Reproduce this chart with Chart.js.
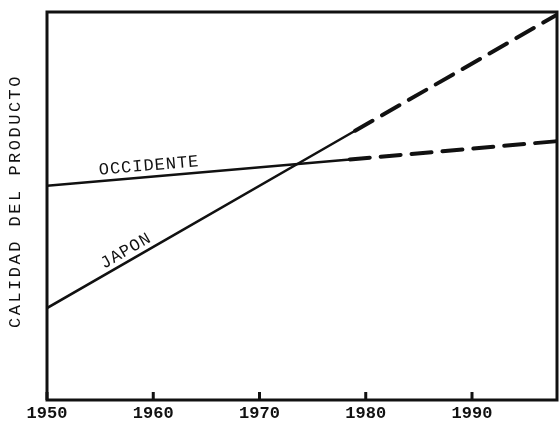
<!DOCTYPE html>
<html>
<head>
<meta charset="utf-8">
<script src="https://cdn.jsdelivr.net/npm/chart.js@4.4.1/dist/chart.umd.min.js"></script>
<style>
  html, body { margin: 0; padding: 0; background: #fff; }
</style>
</head>
<body>
<canvas id="chart" width="559" height="426"></canvas>
<script>
// values (quality index, arbitrary 0-100 scale)
const japonYears = [1950, 1979, 1998];
const japon = [23.7, 69.4, 99.3];
const occidenteYears = [1950, 1978.5, 1998];
const occidente = [55.2, 62.0, 66.7];
const xTicks = [1950, 1960, 1970, 1980, 1990];
const projectionFrom = 1978.5; // lines are dashed from here on

const INK = '#111';
const MONO = '"Liberation Mono", "DejaVu Sans Mono", monospace';

const toPoints = (xs, ys) => xs.map((x, i) => ({x: x, y: ys[i]}));

const dashedAfter = (ctx) => ctx.p0.parsed.x >= projectionFrom - 0.01 ? [20, 11] : undefined;
const widthAfter = (ctx) => ctx.p0.parsed.x >= projectionFrom - 0.01 ? 4 : 2.5;

// frame, inner ticks and hand-placed texts
const decorations = {
  id: 'decorations',
  afterDraw(chart) {
    const ctx = chart.ctx;
    const area = chart.chartArea;
    const xScale = chart.scales.x;
    const yScale = chart.scales.y;

    ctx.save();
    ctx.strokeStyle = INK;
    ctx.lineWidth = 3;
    ctx.strokeRect(area.left, area.top, area.right - area.left, area.bottom - area.top);

    xTicks.forEach((v) => {
      const x = xScale.getPixelForValue(v);
      ctx.beginPath();
      ctx.moveTo(x, area.bottom);
      ctx.lineTo(x, area.bottom - 8);
      ctx.stroke();
    });

    // y axis title
    ctx.fillStyle = INK;
    ctx.font = '17px ' + MONO;
    ctx.letterSpacing = '2.5px';
    ctx.textAlign = 'center';
    ctx.textBaseline = 'middle';
    ctx.translate(15, 201);
    ctx.rotate(-Math.PI / 2);
    ctx.fillText('CALIDAD DEL PRODUCTO', 0, 0);
    ctx.restore();

    // series labels along the lines
    const seriesLabels = [
      {text: 'OCCIDENTE', xs: occidenteYears, ys: occidente, year: 1959.7, offset: 11},
      {text: 'JAPON', xs: japonYears, ys: japon, year: 1957.9, offset: 10}
    ];
    seriesLabels.forEach((lab) => {
      const i = lab.xs.findIndex((x, k) => k < lab.xs.length - 1 && lab.xs[k + 1] >= lab.year);
      const x0 = xScale.getPixelForValue(lab.xs[i]);
      const y0 = yScale.getPixelForValue(lab.ys[i]);
      const x1 = xScale.getPixelForValue(lab.xs[i + 1]);
      const y1 = yScale.getPixelForValue(lab.ys[i + 1]);
      const t = (lab.year - lab.xs[i]) / (lab.xs[i + 1] - lab.xs[i]);
      const px = x0 + (x1 - x0) * t;
      const py = y0 + (y1 - y0) * t;
      const angle = Math.atan2(y1 - y0, x1 - x0);
      ctx.save();
      ctx.translate(px + Math.sin(angle) * lab.offset, py - Math.cos(angle) * lab.offset);
      ctx.rotate(angle);
      ctx.fillStyle = INK;
      ctx.font = '17px ' + MONO;
      ctx.letterSpacing = '1px';
      ctx.textAlign = 'center';
      ctx.textBaseline = 'middle';
      ctx.fillText(lab.text, 0, 0);
      ctx.restore();
    });
  }
};

new Chart(document.getElementById('chart'), {
  type: 'line',
  data: {
    datasets: [
      {
        label: 'JAPON',
        data: toPoints(japonYears, japon),
        borderColor: INK,
        borderWidth: 2.5,
        pointRadius: 0,
        tension: 0,
        borderCapStyle: 'round',
        segment: {borderDash: dashedAfter, borderWidth: widthAfter}
      },
      {
        label: 'OCCIDENTE',
        data: toPoints(occidenteYears, occidente),
        borderColor: INK,
        borderWidth: 2.5,
        pointRadius: 0,
        tension: 0,
        borderCapStyle: 'round',
        segment: {borderDash: dashedAfter, borderWidth: widthAfter}
      }
    ]
  },
  options: {
    responsive: false,
    animation: false,
    devicePixelRatio: 1,
    layout: {padding: {left: 47, top: 12, right: 2, bottom: -1}},
    plugins: {legend: {display: false}, tooltip: {enabled: false}},
    scales: {
      x: {
        type: 'linear',
        min: 1950,
        max: 1998,
        afterBuildTicks: (scale) => { scale.ticks = xTicks.map((v) => ({value: v})); },
        grid: {display: false, drawTicks: false},
        border: {display: false},
        ticks: {
          color: INK,
          padding: 5,
          maxRotation: 0,
          font: {family: MONO, size: 17, weight: 'bold', lineHeight: 1},
          callback: (v) => String(v)
        }
      },
      y: {
        display: false,
        min: 0,
        max: 100
      }
    }
  },
  plugins: [decorations]
});
</script>
</body>
</html>
